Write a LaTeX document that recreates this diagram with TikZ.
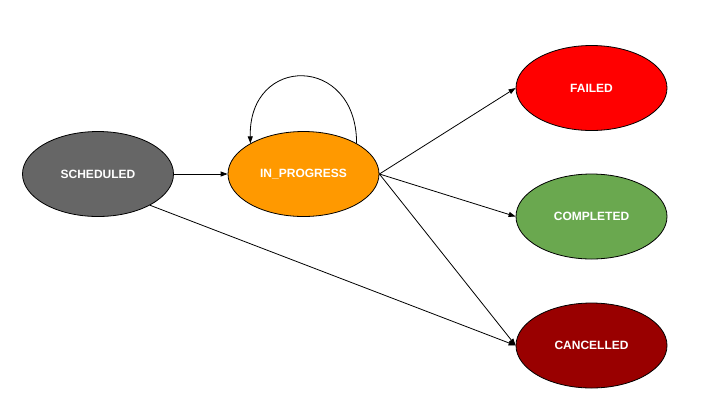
\documentclass[tikz,border=0pt]{standalone}
\usepackage{fontspec}
\setmainfont{Liberation Sans}
\usetikzlibrary{shapes.geometric,arrows.meta}
\definecolor{cgray}{HTML}{666666}
\definecolor{corange}{HTML}{FF9900}
\definecolor{cred}{HTML}{FF0000}
\definecolor{cgreen}{HTML}{6AA84F}
\definecolor{cdark}{HTML}{990000}
\tikzset{
  state/.style={ellipse, draw=black, line width=0.8pt, minimum width=151pt, minimum height=85pt, inner sep=0pt,
    text=white, font=\fontsize{12}{14}\selectfont\bfseries},
  conn/.style={draw=black, line width=0.8pt, -{Triangle[length=7pt,width=5pt]}}
}
\begin{document}
\begin{tikzpicture}[x=1pt,y=-1pt]
\useasboundingbox (0,0) rectangle (727,408);
\fill[white] (0,0) rectangle (727,408);
\node[state, fill=cgray] (s) at (98,174) {SCHEDULED};
\node[state, fill=corange] (p) at (303.5,174) {IN\_PROGRESS};
\node[state, fill=cred] (f) at (591.5,88) {FAILED};
\node[state, fill=cgreen] (c) at (591.5,216.5) {COMPLETED};
\node[state, fill=cdark] (x) at (591.5,345.5) {CANCELLED};
\draw[conn] (s.east) -- (p.west);
\draw[conn] (s.-31) -- (x.west);
\draw[conn] (p.east) -- (f.west);
\draw[conn] (p.east) -- (c.west);
\draw[conn] (p.east) -- (x.west);
\draw[conn] (p.30) .. controls ++(0,-89) and ++(-2,-89) .. (p.150);
\end{tikzpicture}
\end{document}
